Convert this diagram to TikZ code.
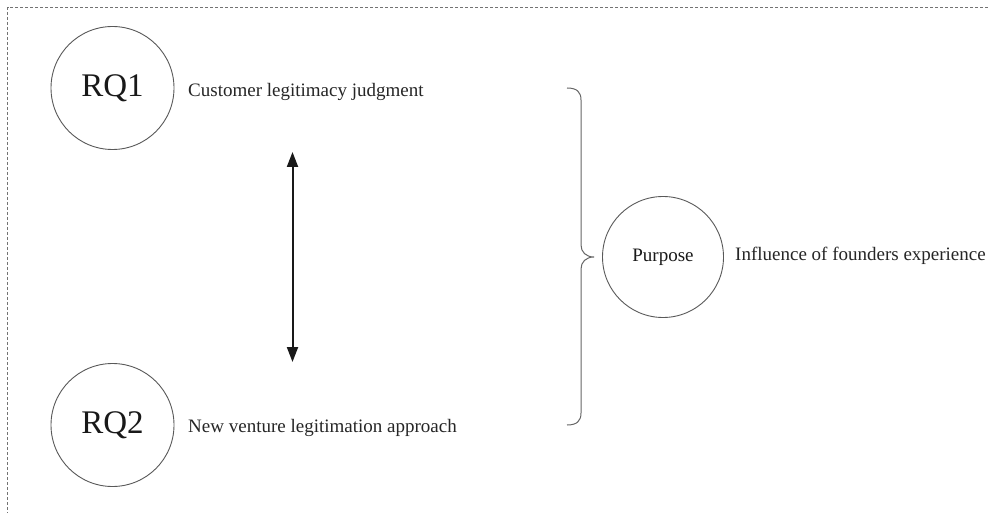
\documentclass[tikz,border=0pt]{standalone}
\usepackage{fontspec}
\setmainfont{Liberation Serif}
\usetikzlibrary{arrows.meta}
\tikzset{
  rqcircle/.style={circle, draw=black!65, line width=0.9pt, minimum size=123pt, inner sep=0pt, font=\fontsize{33}{38}\selectfont, text=black!90},
  purpcircle/.style={circle, draw=black!65, line width=0.9pt, minimum size=121pt, inner sep=0pt, font=\fontsize{19}{22}\selectfont, text=black!90},
  lbl/.style={anchor=base west, inner sep=0pt, font=\fontsize{19}{22}\selectfont, text=black!85},
  border/.style={draw=black!55, line width=0.8pt, dash pattern=on 3pt off 2pt},
  dblarrow/.style={{Triangle[length=15pt,width=11pt]}-{Triangle[length=15pt,width=11pt]}, line width=2pt, black!90},
  bracestyle/.style={draw=black!60, line width=1pt}
}
\begin{document}
\begin{tikzpicture}[x=1pt,y=-1pt]
\useasboundingbox (0,0) rectangle (988,513);
\fill[white] (0,0) rectangle (988,513);
% dashed frame (top and left)
\coordinate (ftr) at (988,7.5);
\coordinate (ftl) at (7.5,7.5);
\coordinate (fbl) at (7.5,513);
\draw[border] (ftr) -- (ftl) -- (fbl);
% circles
\node[rqcircle] (rq1) at (112.5,88) {RQ1};
\node[rqcircle] (rq2) at (112.5,425) {RQ2};
\node[purpcircle] (purpose) at (663,257) {Purpose};
% labels
\node[lbl] (l1) at (188,97) {Customer legitimacy judgment};
\node[lbl] (l2) at (188,432) {New venture legitimation approach};
\node[lbl] (l3) at (735,261) {Influence of founders experience};
% double arrow
\coordinate (atop) at (292.5,152);
\coordinate (abot) at (292.5,362);
\draw[dblarrow] (atop) -- (abot);
% brace
\coordinate (b1) at (567,88);
\coordinate (b2) at (581,100);
\coordinate (b3) at (581,245);
\coordinate (bm) at (594,257);
\coordinate (b4) at (581,269);
\coordinate (b5) at (581,413);
\coordinate (b6) at (567,425);
\draw[bracestyle] (b1) .. controls (577,88) and (581,92) .. (b2) -- (b3)
  .. controls (581,252) and (586,257) .. (bm)
  .. controls (586,257) and (581,262) .. (b4) -- (b5)
  .. controls (581,421) and (577,425) .. (b6);
\end{tikzpicture}
\end{document}
